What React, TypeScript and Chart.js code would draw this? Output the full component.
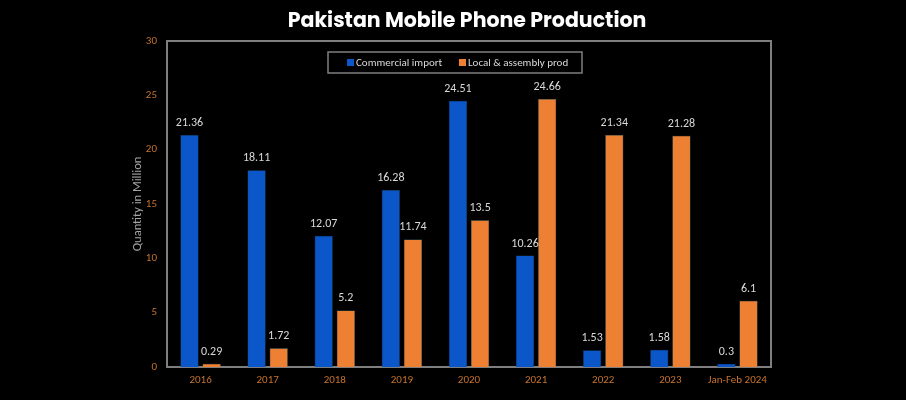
import React, { useEffect, useRef } from "react";
import { Chart, registerables } from "chart.js";

Chart.register(...registerables);

const titleText = "Pakistan Mobile Phone Production";
const axisTitle = "Quantity in Million";
const categories = ["2016", "2017", "2018", "2019", "2020", "2021", "2022", "2023", "Jan-Feb 2024"];
const commercialImport = [21.36, 18.11, 12.07, 16.28, 24.51, 10.26, 1.53, 1.58, 0.3];
const localAssembly = [0.29, 1.72, 5.2, 11.74, 13.5, 24.66, 21.34, 21.28, 6.1];
const seriesLabels = ["Commercial import", "Local & assembly prod"];
const seriesColors = ["#0b56c9", "#ee8034"];
const yTicks = [0, 5, 10, 15, 20, 25, 30];

const FONT = "Calibri, Carlito, 'Liberation Sans', 'DejaVu Sans', sans-serif";

const frameAndLabels = {
  id: "frameAndLabels",
  beforeDatasetsDraw(chart: any) {
    const { ctx, chartArea } = chart;
    ctx.save();
    ctx.strokeStyle = "#7f7f7f";
    ctx.lineWidth = 2;
    ctx.strokeRect(chartArea.left, chartArea.top, chartArea.right - chartArea.left, chartArea.bottom - chartArea.top);
    ctx.restore();
  },
  afterDatasetsDraw(chart: any) {
    const { ctx } = chart;
    ctx.save();
    // title
    ctx.font = "bold 20.5px Poppins, 'Open Sans', sans-serif";
    ctx.fillStyle = "#ffffff";
    ctx.textAlign = "center";
    ctx.textBaseline = "middle";
    ctx.fillText(titleText, 467, 22);
    // value labels
    ctx.font = "12px " + FONT;
    ctx.fillStyle = "#d9d9d9";
    ctx.textAlign = "center";
    ctx.textBaseline = "bottom";
    chart.data.datasets.forEach((ds: any, i: number) => {
      const meta = chart.getDatasetMeta(i);
      meta.data.forEach((bar: any, j: number) => {
        ctx.fillText(String(ds.data[j]), bar.x, bar.y - 6);
      });
    });
    // legend
    const lx = 328, ly = 52, lw = 254, lh = 21;
    ctx.strokeStyle = "#7f7f7f";
    ctx.lineWidth = 1.5;
    ctx.strokeRect(lx, ly, lw, lh);
    ctx.font = "11px " + FONT;
    ctx.textAlign = "left";
    ctx.textBaseline = "middle";
    const items = [
      { x: 347, label: seriesLabels[0], color: seriesColors[0] },
      { x: 459, label: seriesLabels[1], color: seriesColors[1] },
    ];
    items.forEach((it) => {
      ctx.fillStyle = it.color;
      ctx.fillRect(it.x, ly + lh / 2 - 3.5, 7, 7);
      ctx.fillStyle = "#d9d9d9";
      ctx.fillText(it.label, it.x + 9, ly + lh / 2 + 0.5);
    });
    ctx.restore();
  },
};

export default function App() {
  const ref = useRef<HTMLCanvasElement>(null);
  useEffect(() => {
    const chart = new Chart(ref.current!, {
      type: "bar",
      data: {
        labels: categories,
        datasets: [
          {
            label: seriesLabels[0],
            data: commercialImport,
            backgroundColor: seriesColors[0],
            borderColor: "#1d4a6a",
            borderWidth: 0.5,
            categoryPercentage: 0.66,
            barPercentage: 0.82,
          },
          {
            label: seriesLabels[1],
            data: localAssembly,
            backgroundColor: seriesColors[1],
            borderColor: "#4e8a90",
            borderWidth: 0.5,
            categoryPercentage: 0.66,
            barPercentage: 0.82,
          },
        ],
      },
      options: {
        animation: false,
        responsive: false,
        maintainAspectRatio: false,
        layout: { padding: { left: 127, right: 135, top: 41, bottom: 8 } },
        plugins: {
          legend: { display: false },
          tooltip: { enabled: false },
          title: { display: false },
        },
        scales: {
          x: {
            grid: { display: false, drawTicks: false },
            border: { display: false },
            ticks: { color: "#c5732f", font: { size: 11, family: FONT }, padding: 7, maxRotation: 0 },
            afterFit: (s: any) => { s.height = 25; },
          },
          y: {
            min: 0,
            max: 30,
            grid: { display: false, drawTicks: false },
            border: { display: false },
            afterBuildTicks: (s: any) => { s.ticks = yTicks.map((v) => ({ value: v })); },
            ticks: { color: "#c5732f", font: { size: 11, family: FONT }, padding: 10 },
            title: {
              display: true,
              text: axisTitle,
              color: "#a6a6a6",
              font: { size: 12.5, family: FONT },
              padding: { top: 3, bottom: 0 },
            },
            afterFit: (s: any) => { s.width = 40; },
          },
        },
      },
      plugins: [frameAndLabels],
    } as any);
    return () => chart.destroy();
  }, []);
  return (
    <div style={{ position: "fixed", left: 0, top: 0, width: 906, height: 400, background: "#000" }}>
      <canvas ref={ref} width={906} height={400} style={{ display: "block" }} />
    </div>
  );
}
